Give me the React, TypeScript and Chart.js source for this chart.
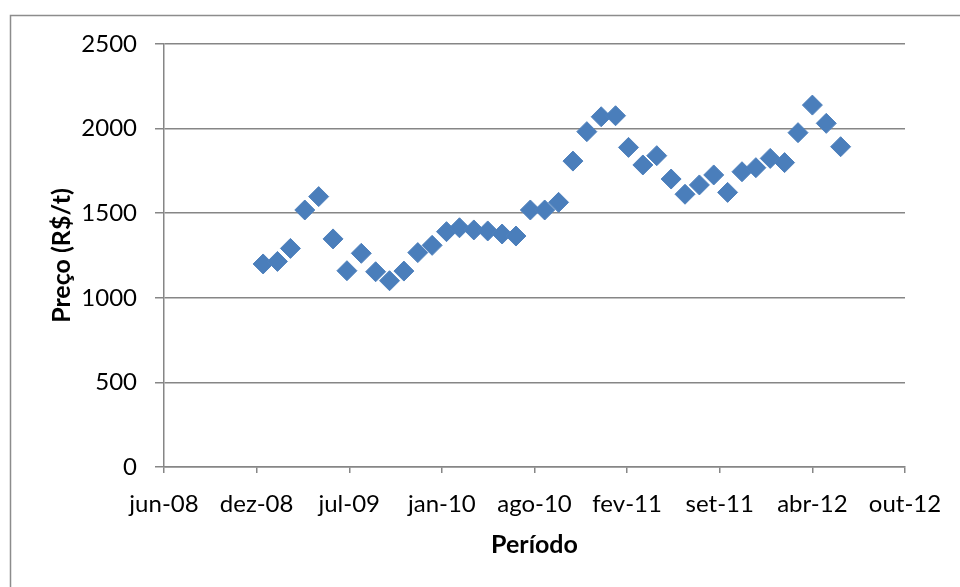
import React, { useEffect, useRef } from "react";
import { Chart, registerables } from "chart.js";

Chart.register(...registerables);

// Monthly observations (year-month)
const periodos: string[] = [
  "2009-01", "2009-02", "2009-03", "2009-04", "2009-05", "2009-06",
  "2009-07", "2009-08", "2009-09", "2009-10", "2009-11", "2009-12",
  "2010-01", "2010-02", "2010-03", "2010-04", "2010-05", "2010-06",
  "2010-07", "2010-08", "2010-09", "2010-10", "2010-11", "2010-12",
  "2011-01", "2011-02", "2011-03", "2011-04", "2011-05", "2011-06",
  "2011-07", "2011-08", "2011-09", "2011-10", "2011-11", "2011-12",
  "2012-01", "2012-02", "2012-03", "2012-04", "2012-05", "2012-06",
];

// Price (R$/t)
const precos: number[] = [
  1200, 1215, 1292, 1519, 1598, 1348,
  1160, 1263, 1154, 1101, 1158, 1267,
  1310, 1391, 1414, 1401, 1395, 1377,
  1365, 1519, 1519, 1564, 1808, 1982,
  2070, 2076, 1889, 1785, 1840, 1702,
  1612, 1667, 1726, 1623, 1745, 1769,
  1824, 1799, 1976, 2139, 2031, 1893,
];

// Axis settings (Excel date serials)
const xMin = 39600;
const xMax = 41200;
const xStep = 200;
const yMin = 0;
const yMax = 2500;
const yStep = 500;

const mesesPt: string[] = ["jan", "fev", "mar", "abr", "mai", "jun", "jul", "ago", "set", "out", "nov", "dez"];

const EXCEL_EPOCH = Date.UTC(1899, 11, 30);
const DAY = 86400000;

function toSerial(ym: string): number {
  const [y, m] = ym.split("-").map(Number);
  return Math.round((Date.UTC(y, m - 1, 1) - EXCEL_EPOCH) / DAY);
}

function serialLabel(v: number): string {
  const d = new Date(EXCEL_EPOCH + v * DAY);
  const yy = String(d.getUTCFullYear() % 100).padStart(2, "0");
  return `${mesesPt[d.getUTCMonth()]}-${yy}`;
}

const FONT = "Lato, 'Open Sans', sans-serif";
const GRID = "#868686";

export default function App() {
  const ref = useRef<HTMLCanvasElement | null>(null);

  useEffect(() => {
    if (!ref.current) return;
    const framePlugin = {
      id: "frame",
      beforeDraw(chart: any) {
        const ctx = chart.ctx;
        ctx.save();
        ctx.fillStyle = "#ffffff";
        ctx.fillRect(0, 0, chart.width, chart.height);
        ctx.strokeStyle = "#8c8c8c";
        ctx.lineWidth = 1.5;
        ctx.beginPath();
        ctx.moveTo(10.5, chart.height + 5);
        ctx.lineTo(10.5, 15.5);
        ctx.lineTo(chart.width + 5, 15.5);
        ctx.stroke();
        ctx.restore();
      },
    };

    const chart = new Chart(ref.current, {
      type: "scatter",
      data: {
        datasets: [
          {
            label: "Preço",
            data: periodos.map((p, i) => ({ x: toSerial(p), y: precos[i] })),
            pointStyle: "rectRot",
            pointRadius: 10,
            pointBackgroundColor: "#4a7ebb",
            pointBorderColor: "#4f81bd",
            pointBorderWidth: 1,
            showLine: false,
          },
        ],
      },
      options: {
        responsive: false,
        animation: false,
        layout: { padding: { left: 0, right: 55, top: 44, bottom: 0 } },
        plugins: {
          legend: { display: false },
          tooltip: { enabled: false },
        },
        scales: {
          x: {
            type: "linear",
            min: xMin,
            max: xMax,
            afterFit(scale: any) {
              scale.height = 120;
            },
            afterBuildTicks(scale: any) {
              const t = [];
              for (let v = xMin; v <= xMax; v += xStep) t.push({ value: v });
              scale.ticks = t;
            },
            ticks: {
              stepSize: xStep,
              autoSkip: false,
              maxRotation: 0,
              padding: 17,
              color: "#000",
              font: { family: FONT, size: 24 },
              callback: (v: any) => serialLabel(Number(v)),
            },
            grid: {
              drawOnChartArea: false,
              drawTicks: true,
              tickLength: 6,
              color: GRID,
              lineWidth: 1.5,
            },
            border: { display: true, color: GRID, width: 1.5 },
            title: {
              display: true,
              text: "Período",
              color: "#000",
              font: { family: FONT, size: 25, weight: "bold" },
              padding: { top: 0, bottom: 27 },
            },
          },
          y: {
            min: yMin,
            max: yMax,
            afterFit(scale: any) {
              scale.width = 164;
            },
            ticks: {
              stepSize: yStep,
              padding: 18,
              color: "#000",
              font: { family: FONT, size: 24 },
              callback: (v: any) => String(v),
            },
            grid: {
              color: GRID,
              lineWidth: 1.5,
              tickLength: 9,
              drawTicks: true,
            },
            border: { display: true, color: GRID, width: 1.5 },
            title: {
              display: true,
              text: "Preço (R$/t)",
              color: "#000",
              font: { family: FONT, size: 25, weight: "bold" },
              padding: { top: 47, bottom: 0 },
            },
          },
        },
      },
      plugins: [framePlugin],
    });
    return () => chart.destroy();
  }, []);

  return (
    <div style={{ position: "fixed", left: 0, top: 0, width: 960, height: 587, background: "#fff" }}>
      <canvas ref={ref} width={960} height={587} style={{ display: "block" }} />
    </div>
  );
}
